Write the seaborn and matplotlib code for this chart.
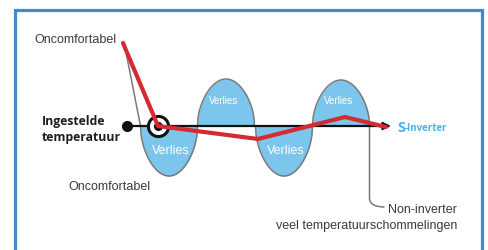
import numpy as np
import matplotlib
matplotlib.use("Agg")
import matplotlib.pyplot as plt
import seaborn as sns
import pandas as pd
from matplotlib.patches import Rectangle, PathPatch
from matplotlib.path import Path

sns.set_theme(style="white")
plt.rcParams['font.family'] = ['Liberation Sans', 'DejaVu Sans']

# ---- data (x: time in px units, y: deviation from set temperature) ----
lobe_centers = [169, 226, 284, 341]
lobe_heights = [-50, 47, -50, 46]
lead_in_x = [124, 140.5]
lead_in_y = [84, 0]
red_x = [123, 158, 258, 345, 386]
red_y = [83, 0, -13, 9, -1]
setpoint_x = [127, 391]
verlies_labels = ["Verlies", "Verlies", "Verlies", "Verlies"]

LOBE_HW = 28.5

fig = plt.figure(figsize=(4.88, 2.51), dpi=100)
ax = fig.add_axes([0, 0, 1, 1])
ax.set_xlim(0, 488)
ax.set_ylim(-124, 127)
ax.axis('off')

# frame
ax.add_patch(Rectangle((15, -140), 467, 256, fill=False, edgecolor='#3d8ccc', lw=2.3, zorder=1))

# wave
wx, wy = [], []
for c, h in zip(lobe_centers, lobe_heights):
    xs = np.linspace(c - LOBE_HW, c + LOBE_HW, 100)
    ys = h * np.abs(np.sin(np.pi * (xs - (c - LOBE_HW)) / (2 * LOBE_HW))) ** 0.5
    wx.extend(xs); wy.extend(ys)
wx = np.array(wx); wy = np.array(wy)
ax.fill_between(wx, wy, 0, color='#7cc6ee', lw=0, zorder=2)
wave_df = pd.DataFrame({'x': np.concatenate([lead_in_x, wx]), 'y': np.concatenate([lead_in_y, wy])})
sns.lineplot(data=wave_df, x='x', y='y', sort=False, color='#7a7a7a', lw=1.1, ax=ax, zorder=3)

# leader line to Non-inverter
end_x = lobe_centers[-1] + LOBE_HW
verts = [(end_x, 0), (end_x, -72), (end_x, -81), (end_x + 15, -81)]
codes = [Path.MOVETO, Path.LINETO, Path.CURVE3, Path.CURVE3]
ax.add_patch(PathPatch(Path(verts, codes), fill=False, edgecolor='#7a7a7a', lw=1.1, zorder=3))

# setpoint arrow
ax.annotate('', xy=(setpoint_x[1], 0), xytext=(setpoint_x[0], 0),
            arrowprops=dict(arrowstyle='-|>', color='#111111', lw=1.6, mutation_scale=11,
                            shrinkA=0, shrinkB=0), zorder=4)
ax.plot([setpoint_x[0]], [0], 'o', color='#111111', ms=7, zorder=5)

# circle marker
ax.plot([red_x[1]], [0], 'o', ms=14.5, mfc='white', mec='#111111', mew=2.2, zorder=5)
ax.plot([red_x[1]], [0], 'o', ms=5.5, color='#111111', zorder=6)

# red line
red_df = pd.DataFrame({'x': red_x, 'y': red_y})
sns.lineplot(data=red_df, x='x', y='y', sort=False, color='#d42a30', lw=3.0, ax=ax, zorder=7)

# texts
tc = '#3a3a3a'
ax.text(34, 87, 'Oncomfortabel', fontsize=9, color=tc, va='center', ha='left')
ax.text(68, -60, 'Oncomfortabel', fontsize=9, color=tc, va='center', ha='left')
ax.text(42, 6, 'Ingestelde', fontsize=8.8, color='#1e1e1e', va='center', ha='left',
        fontweight='bold', family=['Open Sans', 'DejaVu Sans'])
ax.text(42, -11, 'temperatuur', fontsize=8.8, color='#1e1e1e', va='center', ha='left',
        fontweight='bold', family=['Open Sans', 'DejaVu Sans'])
for c, h, lab in zip(lobe_centers, lobe_heights, verlies_labels):
    if h < 0:
        ax.text(c + 2, -24, lab, fontsize=8.9, color='white', ha='center', va='center', zorder=4)
    else:
        ax.text(c - 2, 26, lab, fontsize=7, color='white', ha='center', va='center', zorder=4)
ax.text(397, -0.5, 'S', fontsize=10.5, color='#4ab4e8', ha='left', va='center', fontweight='bold',
        family=['Open Sans', 'DejaVu Sans'])
ax.text(405, -1.5, '-Inverter', fontsize=7, color='#4ab4e8', ha='left', va='center', fontweight='bold',
        family=['Open Sans', 'DejaVu Sans'])
ax.text(457, -83, 'Non-inverter', fontsize=9, color=tc, ha='right', va='center')
ax.text(457, -99, 'veel temperatuurschommelingen', fontsize=9, color=tc, ha='right', va='center')

fig.savefig('out.png', dpi=100)
